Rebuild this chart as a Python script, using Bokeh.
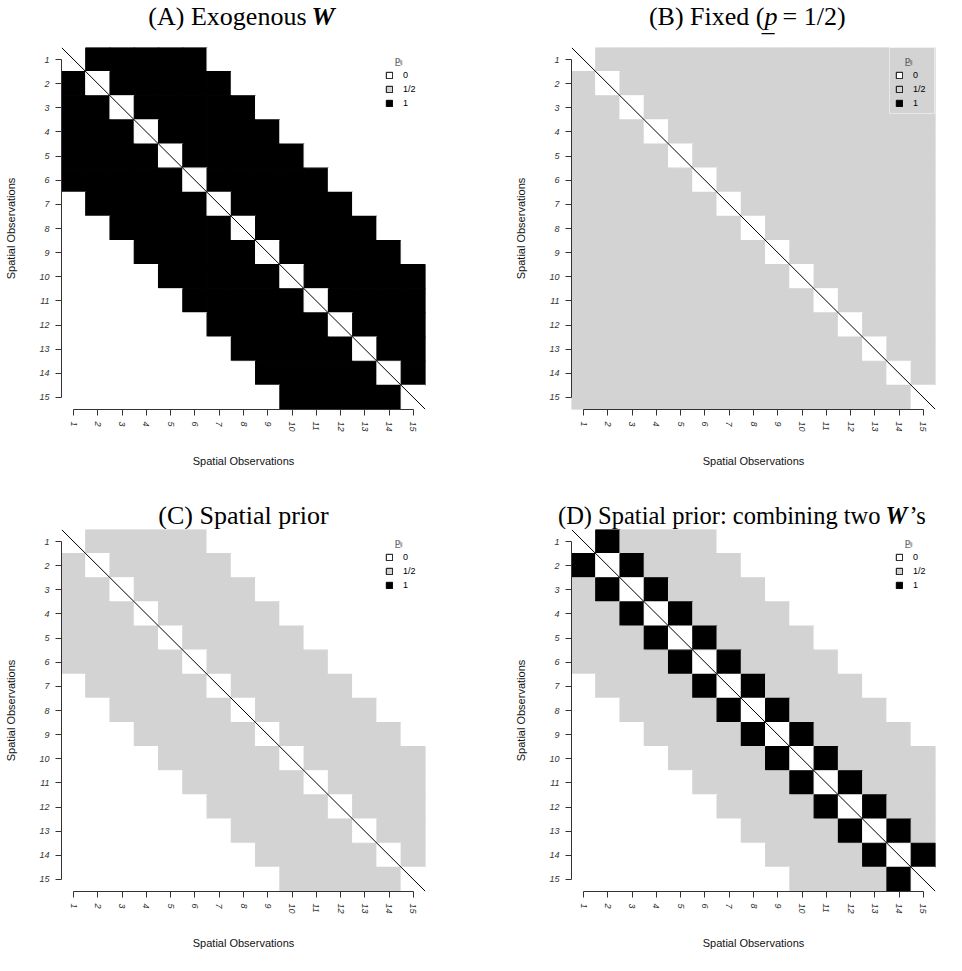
import math
from bokeh.plotting import figure
from bokeh.models import Range1d, FixedTicker, Legend, LegendItem, Label, ColumnDataSource
from bokeh.layouts import column, row
from bokeh.embed import file_html
from bokeh.resources import INLINE

# ---------------- data ----------------
obs = list(range(1, 16))                      # spatial observations 1..15
tick_labels = [str(i) for i in obs]
level_codes = {"0": 0.0, "h": 0.5, "1": 1.0}  # cell codes -> p_ij
level_values = [0.0, 0.5, 1.0]
level_labels = ["0", "1/2", "1"]
level_colors = ["#FFFFFF", "#D3D3D3", "#000000"]

# (A) exogenous W
W_exog = [
    "011111000000000",
    "101111100000000",
    "110111110000000",
    "111011111000000",
    "111101111100000",
    "111110111110000",
    "011111011111000",
    "001111101111100",
    "000111110111110",
    "000011111011111",
    "000001111101111",
    "000000111110111",
    "000000011111011",
    "000000001111101",
    "000000000111110",
]
# (B) fixed p = 1/2
W_fixed = [
    "0hhhhhhhhhhhhhh",
    "h0hhhhhhhhhhhhh",
    "hh0hhhhhhhhhhhh",
    "hhh0hhhhhhhhhhh",
    "hhhh0hhhhhhhhhh",
    "hhhhh0hhhhhhhhh",
    "hhhhhh0hhhhhhhh",
    "hhhhhhh0hhhhhhh",
    "hhhhhhhh0hhhhhh",
    "hhhhhhhhh0hhhhh",
    "hhhhhhhhhh0hhhh",
    "hhhhhhhhhhh0hhh",
    "hhhhhhhhhhhh0hh",
    "hhhhhhhhhhhhh0h",
    "hhhhhhhhhhhhhh0",
]
# (C) spatial prior
W_prior = [
    "0hhhhh000000000",
    "h0hhhhh00000000",
    "hh0hhhhh0000000",
    "hhh0hhhhh000000",
    "hhhh0hhhhh00000",
    "hhhhh0hhhhh0000",
    "0hhhhh0hhhhh000",
    "00hhhhh0hhhhh00",
    "000hhhhh0hhhhh0",
    "0000hhhhh0hhhhh",
    "00000hhhhh0hhhh",
    "000000hhhhh0hhh",
    "0000000hhhhh0hh",
    "00000000hhhhh0h",
    "000000000hhhhh0",
]
# (D) spatial prior combining two W's
W_comb = [
    "01hhhh000000000",
    "101hhhh00000000",
    "h101hhhh0000000",
    "hh101hhhh000000",
    "hhh101hhhh00000",
    "hhhh101hhhh0000",
    "0hhhh101hhhh000",
    "00hhhh101hhhh00",
    "000hhhh101hhhh0",
    "0000hhhh101hhhh",
    "00000hhhh101hhh",
    "000000hhhh101hh",
    "0000000hhhh101h",
    "00000000hhhh101",
    "000000000hhhh10",
]

# ---------------- layout constants ----------------
MAT_W, MAT_H = 364, 362          # matrix size in px
LEFT = 61                        # matrix offset inside each panel
STRIP_H = 47                     # title strip height
SERIF = "Liberation Serif"
SANS = "Liberation Sans"


def title_strip(width, parts, ty, size):
    s = figure(width=width, height=STRIP_H, output_backend="svg", toolbar_location=None,
               x_range=Range1d(0, width), y_range=Range1d(STRIP_H, 0),
               x_axis_location=None, y_axis_location=None,
               min_border_left=0, min_border_right=0, min_border_top=0, min_border_bottom=0)
    s.outline_line_color = None
    s.grid.visible = False
    s.background_fill_color = "white"
    s.border_fill_color = "white"
    for text, sx, align, style in parts:
        s.add_layout(Label(x=sx, y=ty, text=text, text_align=align, text_baseline="middle",
                           text_font=SERIF, text_font_size=size, text_font_style=style,
                           text_color="black"))
    return s


def make_panel(matrix, width, height):
    p = figure(width=width, height=height, output_backend="svg", toolbar_location=None,
               x_range=Range1d(obs[0] - 0.5, obs[-1] + 0.5),
               y_range=Range1d(obs[-1] + 0.5, obs[0] - 0.5),
               min_border_left=LEFT, min_border_top=0,
               min_border_right=width - LEFT - MAT_W,
               min_border_bottom=height - MAT_H)
    p.outline_line_color = None
    p.grid.visible = False
    p.background_fill_color = "white"
    p.border_fill_color = "white"

    xs, ys, cols = [], [], []
    for i, rstr in enumerate(matrix):
        for j, ch in enumerate(rstr):
            xs.append(obs[j])
            ys.append(obs[i])
            cols.append(level_colors[level_values.index(level_codes[ch])])
    src = ColumnDataSource(dict(x=xs, y=ys, color=cols))
    p.rect(x="x", y="y", width=1, height=1, fill_color="color", line_color="color",
           line_width=1.2, source=src)

    # diagonal
    p.line(x=[obs[0] - 0.5, obs[-1] + 0.5], y=[obs[0] - 0.5, obs[-1] + 0.5],
           line_color="black", line_width=1)

    # axes
    for ax in (p.xaxis[0], p.yaxis[0]):
        ax.ticker = FixedTicker(ticks=obs)
        ax.major_label_overrides = {o: t for o, t in zip(obs, tick_labels)}
        ax.bounds = (obs[0], obs[-1])
        ax.minor_tick_line_color = None
        ax.major_tick_in = 0
        ax.major_tick_out = 6
        ax.axis_line_color = "#333333"
        ax.major_tick_line_color = "#333333"
        ax.major_label_text_font = SANS
        ax.major_label_text_font_size = "9px"
        ax.major_label_text_font_style = "italic"
        ax.major_label_text_color = "#333333"
        ax.axis_label = "Spatial Observations"
        ax.axis_label_text_font = SANS
        ax.axis_label_text_font_size = "11px"
        ax.axis_label_text_font_style = "normal"
        ax.axis_label_text_color = "#111111"
    p.xaxis.major_label_orientation = -math.pi / 2
    p.xaxis.major_label_standoff = 6
    p.xaxis.axis_label_standoff = 20
    p.yaxis.major_label_standoff = 6
    p.yaxis.axis_label_standoff = 19

    # legend (keys drawn by NaN-positioned rects so only the legend glyph shows)
    items = []
    for lab, col in zip(level_labels, level_colors):
        r = p.rect(x=[float("nan")], y=[float("nan")], width=1, height=1,
                   fill_color=col, line_color="black", line_width=1)
        items.append(LegendItem(label=lab, renderers=[r]))
    leg = Legend(items=items, location="top_right", margin=0, padding=5,
                 glyph_width=8, glyph_height=8, label_height=9, label_width=16, spacing=4,
                 label_standoff=10, label_text_font=SANS, label_text_font_size="9px",
                 label_text_color="black",
                 title="\u00a0\u00a0\u00a0\u00a0p\u0332\u1d62\u2c7c", title_text_font=SANS,
                 title_text_font_size="9px", title_text_font_style="normal",
                 title_standoff=4, border_line_color="white", border_line_width=1,
                 background_fill_alpha=0)
    p.add_layout(leg)
    return p


ta = title_strip(510, [("(A) Exogenous", 306, "right", "normal"),
                       ("W", 311, "left", "bold italic")], 16, "26px")
tb = title_strip(452, [("(B) Fixed (", 764 - 510, "right", "normal"),
                       ("p\u0332", 764 - 510, "left", "italic"),
                       ("= 1/2)", 782 - 510, "left", "normal")], 16, "26px")
tc = title_strip(510, [("(C) Spatial prior", 243, "center", "normal")], 33, "26px")
td = title_strip(452, [("(D) Spatial prior: combining two", 880 - 510, "right", "normal"),
                       ("W", 885 - 510, "left", "bold italic"),
                       ("\u2019s", 909 - 510, "left", "normal")], 33, "24.5px")

pa = make_panel(W_exog, 510, 482 - STRIP_H)
pb = make_panel(W_fixed, 452, 482 - STRIP_H)
pc = make_panel(W_prior, 510, 489 - STRIP_H)
pd = make_panel(W_comb, 452, 489 - STRIP_H)

layout = column(row(ta, tb), row(pa, pb), row(tc, td), row(pc, pd))
open("out.html", "w").write(file_html(layout, INLINE))
